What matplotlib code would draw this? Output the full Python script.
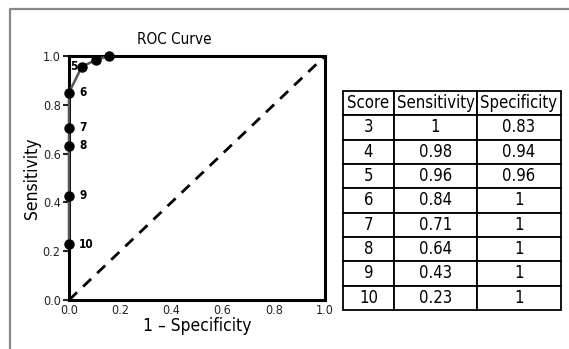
import matplotlib.pyplot as plt
from matplotlib.lines import Line2D

plt.rcParams['font.family'] = ['Liberation Sans Narrow', 'DejaVu Sans']
plt.rcParams['font.stretch'] = 'condensed'

# Points de la courbe ROC
scores = ['3', '4', '5', '6', '7', '8', '9', '10']
fpr = [0.155, 0.105, 0.05, 0.0, 0.0, 0.0, 0.0, 0.0]
tpr = [1.0, 0.984, 0.956, 0.85, 0.706, 0.632, 0.427, 0.228]

# Tableau
col_labels = ['Score', 'Sensitivity', 'Specificity']
tab_score = ['3', '4', '5', '6', '7', '8', '9', '10']
tab_sens = ['1', '0.98', '0.96', '0.84', '0.71', '0.64', '0.43', '0.23']
tab_spec = ['0.83', '0.94', '0.96', '1', '1', '1', '1', '1']

fig = plt.figure(figsize=(5.69, 3.49), dpi=100)

# Cadre gris (haut et gauche)
fig.add_artist(Line2D([10/569, 10/569, 1.0], [0.0, 1 - 8.5/349, 1 - 8.5/349],
                      transform=fig.transFigure, color='#888888', lw=1.6))

ax = fig.add_axes([69/569, 49/349, 256/569, 244/349])
ax.plot([0, 1], [0, 1], color='black', lw=2, dashes=(4, 3), clip_on=False)
ax.plot(fpr, tpr, color='#555555', lw=1.8, marker='o', markersize=6.5,
        markerfacecolor='black', markeredgecolor='black', clip_on=False, zorder=5)

for s, x, y in zip(scores, fpr, tpr):
    if s in ('3', '4'):
        continue
    if s == '5':
        ax.text(0.018, y, s, fontsize=8.5, fontweight='bold', va='center', ha='center')
    else:
        ax.text(0.04, y, s, fontsize=8.5, fontweight='bold', va='center', ha='left')

ax.set_xlim(0, 1)
ax.set_ylim(0, 1)
ax.set_xticks([0, 0.2, 0.4, 0.6, 0.8, 1.0])
ax.set_yticks([0, 0.2, 0.4, 0.6, 0.8, 1.0])
ax.set_xticklabels(['0.0', '0.2', '0.4', '0.6', '0.8', '1.0'])
ax.set_yticklabels(['0.0', '0.2', '0.4', '0.6', '0.8', '1.0'])
ax.tick_params(axis='y', direction='out', length=4, width=1.5, pad=2, labelsize=9, colors='#222222')
ax.tick_params(axis='x', length=0, pad=3, labelsize=9, colors='#222222')
for sp in ax.spines.values():
    sp.set_linewidth(2.2)
ax.set_xlabel('1 – Specificity', fontsize=12.5, labelpad=0)
ax.set_ylabel('Sensitivity', fontsize=12.5, labelpad=1)
fig.text(174/569, 1 - 40/349, 'ROC Curve', fontsize=11, ha='center', va='center')

# Tableau à droite
tax = fig.add_axes([343/569, 39/349, 218/569, 219/349])
tax.axis('off')
rows = [[a, b, c] for a, b, c in zip(tab_score, tab_sens, tab_spec)]
table = tax.table(cellText=rows, colLabels=col_labels, cellLoc='center',
                  colWidths=[51, 83, 84], bbox=[0, 0, 1, 1])
table.auto_set_font_size(False)
for cell in table.get_celld().values():
    cell.set_linewidth(1.3)
    cell.set_text_props(fontsize=12)

plt.savefig('out.png', dpi=100)
